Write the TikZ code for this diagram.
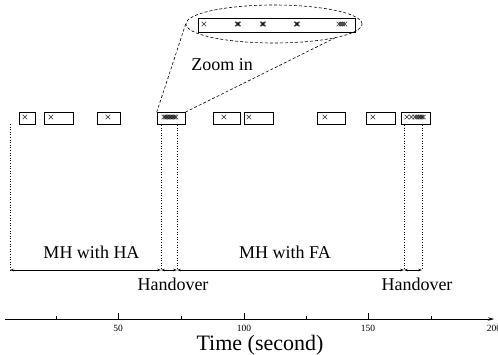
\documentclass[tikz,border=0pt]{standalone}
\usepackage{fontspec}
\setmainfont{Liberation Serif}
\usetikzlibrary{arrows.meta,shapes.geometric}
\begin{document}
\begin{tikzpicture}[x=1pt,y=-1pt,
  sbox/.style={draw, line width=0.6pt, inner sep=0pt, minimum height=12pt},
  xm/.style={inner sep=0pt, font=\fontsize{12}{12}\selectfont},
  lbl/.style={inner sep=0pt, font=\fontsize{18}{18}\selectfont},
  ticklbl/.style={inner sep=0pt, font=\fontsize{9.5}{9.5}\selectfont},
  dline/.style={dotted, line width=0.6pt},
  span/.style={{Stealth[length=4pt,width=2.6pt]}-{Stealth[length=4pt,width=2.6pt]}, line width=0.6pt},
  zline/.style={dash pattern=on 3pt off 2pt, line width=0.6pt}
]
\useasboundingbox (0,0) rectangle (498,354);

% row of boxes
\node[sbox, minimum width=16pt] (b1) at (27,118.5) {};
\node[sbox, minimum width=29pt] (b2) at (58.5,118.5) {};
\node[sbox, minimum width=23pt] (b3) at (108.5,118.5) {};
\node[sbox, minimum width=28pt] (b4) at (171,118.5) {};
\node[sbox, minimum width=27pt] (b5) at (226.5,118.5) {};
\node[sbox, minimum width=29pt] (b6) at (258.5,118.5) {};
\node[sbox, minimum width=28pt] (b7) at (331,118.5) {};
\node[sbox, minimum width=29pt] (b8) at (380.5,118.5) {};
\node[sbox, minimum width=29pt] (b9) at (415.5,118.5) {};

% marks in the boxes
\node[xm] (m1) at (25,118.5) {×};
\node[xm] (m2) at (51,118.5) {×};
\node[xm] (m3) at (108,118.5) {×};
\foreach \x [count=\i] in {164,165.5,167,168.5,170,171.5,173,174.5,176}
  \node[xm] (m4-\i) at (\x,118.5) {×};
\node[xm] (m5) at (224,118.5) {×};
\node[xm] (m6) at (249,118.5) {×};
\node[xm] (m7) at (325,118.5) {×};
\node[xm] (m8) at (373,118.5) {×};
\foreach \x [count=\i] in {407,411.5,415,417,419,420.5,422,423.5}
  \node[xm] (m9-\i) at (\x,118.5) {×};

% zoom-in view
\node[draw, ellipse, zline, inner sep=0pt, minimum width=176pt, minimum height=38pt] (zell) at (274,24) {};
\node[sbox, minimum width=157pt, minimum height=14pt] (zrect) at (276.5,25) {};
\node[xm] (z1) at (204,25) {×};
\foreach \c in {238,263,297}{
  \node[xm] at (\c-0.8,25) {×};
  \node[xm] at (\c,25) {×};
  \node[xm] at (\c+0.8,25) {×};
}
\foreach \x in {339,341,343,345}
  \node[xm] at (\x,25) {×};
\draw[zline] (b4.north west) -- (zell.west);
\draw[zline] (b4.north east) -- (zell.-13);
\node[lbl] (zlbl) at (222,65) {Zoom in};

% dotted boundaries
\coordinate (d0t) at (10,124);   \coordinate (d0b) at (10,270);
\coordinate (d1t) at (161,125);  \coordinate (d1b) at (161,270);
\coordinate (d2t) at (177,125);  \coordinate (d2b) at (177,270);
\coordinate (d3t) at (404,125);  \coordinate (d3b) at (404,270);
\coordinate (d4t) at (422,125);  \coordinate (d4b) at (422,270);
\foreach \i in {0,...,4} \draw[dline] (d\i t) -- (d\i b);

% spans
\draw[span] (d0b) -- (d1b);
\draw[span] (d1b) -- (d2b);
\draw[span] (d2b) -- (d3b);
\draw[span] (d3b) -- (d4b);
\node[lbl] (lha) at (91.5,252) {MH with HA};
\node[lbl] (lfa) at (285,252) {MH with FA};
\node[lbl] (ho1) at (173,284) {Handover};
\node[lbl] (ho2) at (417,284) {Handover};

% time axis
\coordinate (ax0) at (5,319);
\coordinate (ax1) at (494,319);
\draw[-{Stealth[length=6pt,width=3.5pt]}, line width=0.7pt] (ax0) -- (ax1);
\foreach \x/\t in {118/50,244/100,368/150}{
  \draw[line width=0.6pt] (\x,319) -- (\x,313);
  \node[ticklbl] at (\x,328.5) {\t};
}
\node[ticklbl] (t200) at (494,328.5) {200};
\foreach \x in {56,181,306,431}
  \draw[line width=0.5pt] (\x,319) -- (\x,316);
\node[inner sep=0pt, anchor=base, font=\fontsize{22}{22}\selectfont] (tlbl) at (260,350) {Time (second)};
\end{tikzpicture}
\end{document}
